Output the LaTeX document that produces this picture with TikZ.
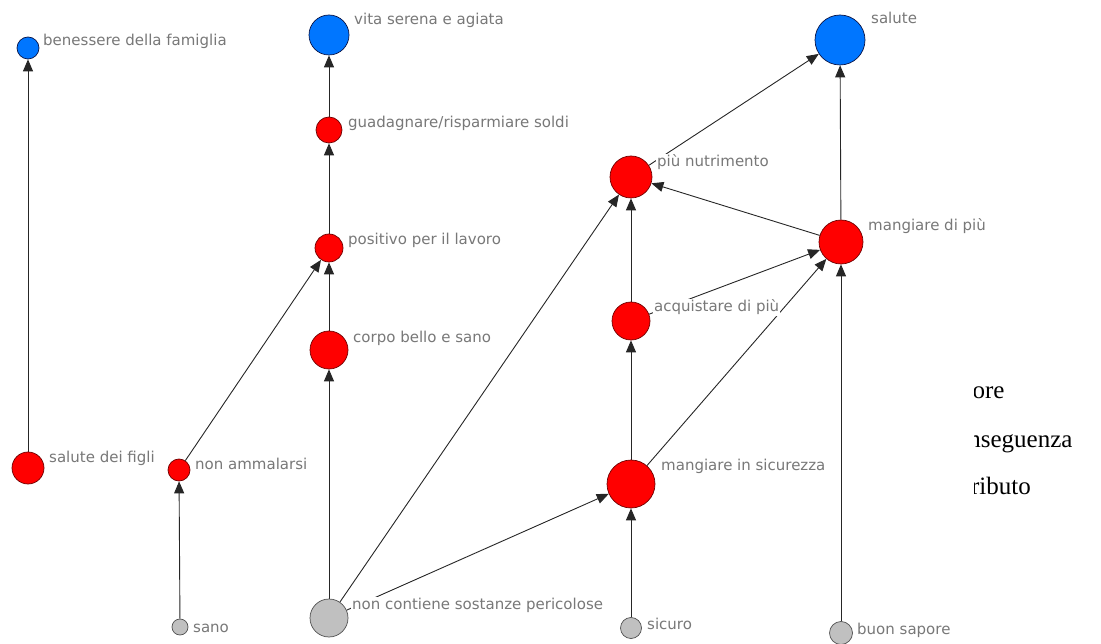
\documentclass[tikz,border=0pt]{standalone}
\usepackage{fontspec}
\setmainfont{DejaVu Sans}
\newfontfamily\legendfont{Liberation Serif}
\usetikzlibrary{arrows.meta}

\definecolor{valfill}{RGB}{0,118,255}
\definecolor{valline}{RGB}{10,20,70}
\definecolor{consfill}{RGB}{255,0,0}
\definecolor{consline}{RGB}{110,0,0}
\definecolor{attrfill}{RGB}{192,192,192}
\definecolor{attrline}{RGB}{80,80,80}
\definecolor{tagtext}{RGB}{120,120,120}

\pgfdeclarelayer{edgelayer}
\pgfdeclarelayer{textlayer}
\pgfsetlayers{edgelayer,textlayer,main}

\tikzset{
  dot/.style={circle,inner sep=0pt,line width=0.7pt,minimum size=#1},
  valnode/.style={dot=#1,fill=valfill,draw=valline},
  consnode/.style={dot=#1,fill=consfill,draw=consline},
  attrnode/.style={dot=#1,fill=attrfill,draw=attrline},
  tag/.style={anchor=base west,fill=white,inner sep=1pt,text=tagtext,
    font=\fontsize{15}{18}\selectfont},
  link/.style={draw=black!85,line width=0.9pt,-{Triangle[length=12pt,width=10pt]}},
  legendtext/.style={anchor=base west,inner sep=0pt,text=black,
    font=\legendfont\fontsize{25}{29}\selectfont}
}

\begin{document}
\begin{tikzpicture}[x=1pt,y=-1pt]
\useasboundingbox (0,0) rectangle (1101,644);

% values
\node[valnode=22] (benessere) at (28,48) {};
\node[valnode=40] (vita) at (329,35) {};
\node[valnode=50] (salute) at (840,40) {};

% consequences
\node[consnode=26] (guadagnare) at (329,130) {};
\node[consnode=28] (positivo) at (329,248) {};
\node[consnode=38] (corpo) at (329,350) {};
\node[consnode=42] (nutrimento) at (631,177) {};
\node[consnode=44] (dipiu) at (841,242) {};
\node[consnode=38] (acquistare) at (631,321) {};
\node[consnode=32] (figli) at (28,468) {};
\node[consnode=22] (ammalarsi) at (179,470) {};
\node[consnode=48] (sicurezza) at (631,484) {};

% attributes
\node[attrnode=16] (sano) at (180,627) {};
\node[attrnode=38] (contiene) at (329,618) {};
\node[attrnode=21] (sicuro) at (631,628) {};
\node[attrnode=23] (sapore) at (841,633) {};

% labels
\begin{pgfonlayer}{textlayer}
\node[tag] (tbenessere) at (42,46) {benessere della famiglia};
\node[tag] (tvita) at (353,25) {vita serena e agiata};
\node[tag] (tsalute) at (870,24) {salute};
\node[tag] (tguadagnare) at (347,128) {guadagnare/risparmiare soldi};
\node[tag] (tpositivo) at (347,245) {positivo per il lavoro};
\node[tag] (tcorpo) at (352,343) {corpo bello e sano};
\node[tag] (tnutrimento) at (656,167) {più nutrimento};
\node[tag] (tdipiu) at (867,231) {mangiare di più};
\node[tag] (tacquistare) at (653,312) {acquistare di più};
\node[tag] (tsicurezza) at (660,470) {mangiare in sicurezza};
\node[tag] (tfigli) at (48,462) {salute dei figli};
\node[tag] (tammalarsi) at (194,469) {non ammalarsi};
\node[tag] (tsano) at (192,632) {sano};
\node[tag] (tcontiene) at (351,609) {non contiene sostanze pericolose};
\node[tag] (tsicuro) at (646,629) {sicuro};
\node[tag] (tsapore) at (856,634) {buon sapore};
\end{pgfonlayer}

% links
\begin{pgfonlayer}{edgelayer}
\draw[link] (figli) -- (benessere);
\draw[link] (sano) -- (ammalarsi);
\draw[link] (ammalarsi) -- (positivo);
\draw[link] (corpo) -- (positivo);
\draw[link] (positivo) -- (guadagnare);
\draw[link] (guadagnare) -- (vita);
\draw[link] (contiene) -- (corpo);
\draw[link] (contiene) -- (nutrimento);
\draw[link] (contiene) -- (sicurezza);
\draw[link] (sicuro) -- (sicurezza);
\draw[link] (sicurezza) -- (acquistare);
\draw[link] (sicurezza) -- (dipiu);
\draw[link] (acquistare) -- (nutrimento);
\draw[link] (acquistare) -- (dipiu);
\draw[link] (dipiu) -- (nutrimento);
\draw[link] (dipiu) -- (salute);
\draw[link] (nutrimento) -- (salute);
\draw[link] (sapore) -- (dipiu);
\end{pgfonlayer}

% legend, partly hidden on its left side
\begin{scope}
\clip (974,370) rectangle (1101,510);
\node[legendtext] (lvalore) at (939,399) {Valore};
\node[legendtext] (lconseguenza) at (939,447) {Conseguenza};
\node[legendtext] (lattributo) at (939,494) {Attributo};
\end{scope}
\end{tikzpicture}
\end{document}
